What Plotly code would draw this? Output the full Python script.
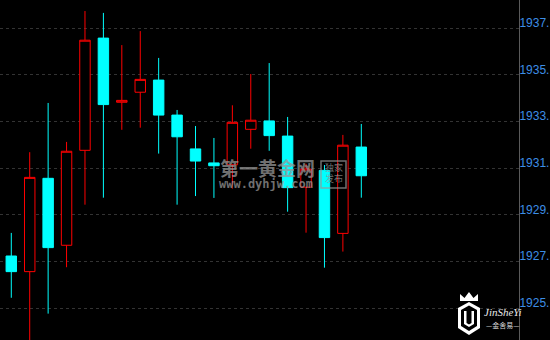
import plotly.graph_objects as go

# ---- data ----
idx = list(range(20))
opens  = [1927.24, 1926.57, 1930.57, 1927.70, 1931.77, 1936.58, 1933.83, 1934.26, 1934.78, 1933.28,
          1931.83, 1931.23, 1931.15, 1932.67, 1933.03, 1932.38, 1930.19, 1930.91, 1928.21, 1931.91]
highs  = [1928.23, 1931.69, 1933.80, 1932.13, 1937.74, 1937.66, 1936.28, 1936.88, 1935.73, 1933.50,
          1932.81, 1932.30, 1933.70, 1935.04, 1935.51, 1933.20, 1931.19, 1931.14, 1932.43, 1932.90]
lows   = [1925.45, 1923.50, 1924.77, 1926.76, 1929.44, 1929.74, 1932.65, 1932.74, 1931.63, 1929.44,
          1929.81, 1929.73, 1930.13, 1931.84, 1931.75, 1929.14, 1928.24, 1926.74, 1927.43, 1929.74]
closes = [1926.57, 1930.61, 1927.60, 1931.73, 1936.49, 1933.73, 1933.91, 1934.81, 1933.28, 1932.35,
          1931.31, 1931.11, 1932.97, 1933.06, 1932.40, 1930.17, 1930.97, 1928.03, 1931.99, 1930.68]

tick_vals = [1925, 1927, 1929, 1931, 1933, 1935, 1937]
tick_text = ["1925.", "1927.", "1929.", "1931.", "1933.", "1935.", "1937."]

W, H = 550, 340
PLOT_W = 519


def px(x):
    return x / PLOT_W


def py(y):
    return 1 - y / H


fig = go.Figure()
fig.add_trace(go.Candlestick(
    x=idx, open=opens, high=highs, low=lows, close=closes,
    increasing=dict(line=dict(color="#ff0000", width=1), fillcolor="#000000"),
    decreasing=dict(line=dict(color="#00ffff", width=1), fillcolor="#00ffff"),
    whiskerwidth=0, hoverinfo="skip", showlegend=False,
))

# watermark
wm_color = "rgba(150,150,150,0.75)"
anns = [
    dict(text="<b>第一黄金网</b>", x=px(267), y=py(167.5), font=dict(family="Noto Sans CJK SC", size=19, color=wm_color)),
    dict(text="<b>www.dyhjw.com</b>", x=px(266), y=py(184), font=dict(family="DejaVu Sans Mono", size=12, color=wm_color)),
    dict(text="独家", x=px(334), y=py(167), font=dict(family="Noto Sans CJK SC", size=9, color=wm_color)),
    dict(text="发布", x=px(334), y=py(178.5), font=dict(family="Noto Sans CJK SC", size=9, color=wm_color)),
    dict(text="<i>JinSheYi</i>", x=px(502.5), y=py(312), font=dict(family="Liberation Serif", size=11, color="#e8e8e8")),
    dict(text="—金舍易—", x=px(503), y=py(324.5), font=dict(family="Noto Sans CJK SC", size=7, color="#d8d8d8")),
]
annotations = [dict(a, xref="paper", yref="paper", showarrow=False, xanchor="center", yanchor="middle") for a in anns]


def path(points, close=True):
    s = "M " + " L ".join(f"{px(x):.5f},{py(y):.5f}" for x, y in points)
    return s + (" Z" if close else "")


shapes = [
    # stamp box
    dict(type="rect", xref="paper", yref="paper", x0=px(321), x1=px(346), y0=py(188), y1=py(161),
         line=dict(color=wm_color, width=1.5)),
    # logo crown
    dict(type="path", xref="paper", yref="paper",
         path=path([(460, 301), (460, 294), (464.5, 298), (469, 292), (473.5, 298), (478, 294), (478, 301)]),
         fillcolor="#ffffff", line=dict(width=0)),
    # logo shield
    dict(type="path", xref="paper", yref="paper",
         path=path([(469, 302), (480, 308), (480, 328), (469, 335), (458, 328), (458, 308)]),
         fillcolor="#ffffff", line=dict(width=0)),
    dict(type="path", xref="paper", yref="paper",
         path=path([(469, 305.5), (477, 310), (477, 326), (469, 331), (461, 326), (461, 310)]),
         fillcolor="#000000", line=dict(width=0)),
    dict(type="path", xref="paper", yref="paper",
         path=path([(464, 311), (464, 324), (469, 327), (474, 324), (474, 311), (471.5, 311), (471.5, 323),
                    (469, 324.5), (466.5, 323), (466.5, 311)]),
         fillcolor="#ffffff", line=dict(width=0)),
]

fig.update_layout(
    width=W, height=H,
    margin=dict(l=0, r=W - PLOT_W, t=0, b=0, autoexpand=False),
    paper_bgcolor="#000000", plot_bgcolor="#000000",
    boxgap=0.19,
    showlegend=False,
    annotations=annotations,
    shapes=shapes,
    xaxis=dict(range=[-0.613, 27.56], visible=False, rangeslider=dict(visible=False), fixedrange=True),
    yaxis=dict(range=[1923.64, 1938.213], side="right", tickvals=tick_vals, ticktext=tick_text,
               showgrid=True, gridcolor="#333333", griddash="dot", gridwidth=1,
               showline=True, linecolor="#5a5a5a", linewidth=1, ticks="", zeroline=False,
               ticklabelposition="outside top", ticklabelstandoff=-3, ticklabelshift=3,
               tickfont=dict(family="Liberation Sans", size=12, color="#3d8ee6"), fixedrange=True),
)

fig.write_html("out.html", config={"displayModeBar": False})
